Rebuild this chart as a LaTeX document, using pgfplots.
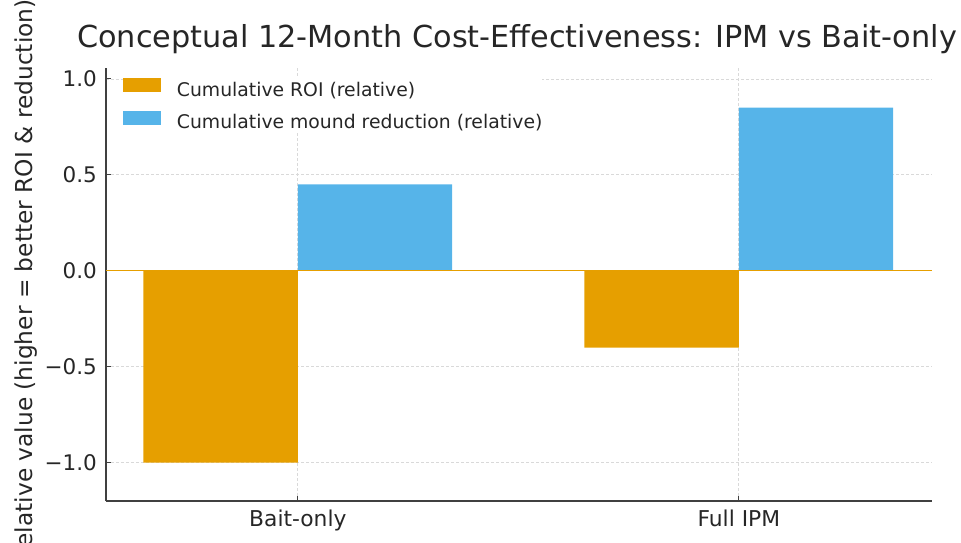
\documentclass[border=0pt]{standalone}
\usepackage{pgfplots}
\pgfplotsset{compat=1.18}
\usepackage{fontspec}
\setmainfont{DejaVu Sans}
\definecolor{cOrange}{HTML}{E69F00}
\definecolor{cBlue}{HTML}{56B4E9}
\definecolor{txt}{HTML}{262626}
\pgfplotsset{mylegend/.style={legend image code/.code={\fill[##1, draw=none] (0bp,-0.5bp) rectangle (38bp,13.5bp);}}}
\begin{document}
\begin{tikzpicture}
\begin{axis}[
  name=ax, at={(0,0)}, anchor=south west,
  scale only axis, width=826bp, height=433bp,
  xmin=-0.435, xmax=1.438, ymin=-1.2, ymax=1.057,
  axis x line*=bottom, axis y line*=left,
  axis line style={-, draw=black!75, line width=1.3bp},
  xtick={0,1}, xticklabels={Bait-only, Full IPM},
  ytick={-1,-0.5,0,0.5,1},
  yticklabels={−1.0,−0.5,0.0,0.5,1.0},
  tick align=inside, major tick length=5bp,
  tick style={draw=black!75, line width=1bp},
  xticklabel style={font=\fontsize{21.8bp}{26bp}\selectfont, text=txt, anchor=base, inner sep=0pt, yshift=-25bp},
  yticklabel style={font=\fontsize{21.5bp}{26bp}\selectfont, text=txt, anchor=east, inner sep=0pt, xshift=-9bp},
  grid=major, major grid style={dash pattern=on 3bp off 2bp, draw=gray!30, line width=0.8bp},
  title={Conceptual 12-Month Cost-Effectiveness: IPM vs Bait-only},
  title style={font=\fontsize{30.3bp}{34bp}\selectfont, text=txt, at={(axis description cs:0.5,1)}, anchor=base, inner sep=0pt, yshift=15bp, xshift=-2bp},
  legend style={at={(axis description cs:0,1)}, anchor=north west, xshift=16.7bp, yshift=-9.7bp, draw=none, fill=white, inner sep=0pt, font=\fontsize{18.8bp}{22bp}\selectfont, text=txt, row sep=10bp, nodes={inner sep=0pt, text height=14bp, text depth=4.5bp}, /tikz/every odd column/.append style={column sep=16bp}},
  legend cell align=left,
]
\addplot[ybar, bar width=0.35, bar shift=-0.175, fill=cOrange, draw=none, mylegend] coordinates {(0,-1.0) (1,-0.40)};
\addlegendentry{Cumulative ROI (relative)}
\addplot[ybar, bar width=0.35, bar shift=0.175, fill=cBlue, draw=none, mylegend] coordinates {(0,0.45) (1,0.85)};
\addlegendentry{Cumulative mound reduction (relative)}
\addplot[forget plot, cOrange, line width=1.1bp] coordinates {(-0.435,0) (1.438,0)};
\end{axis}
\node[rotate=90, anchor=base, font=\fontsize{23.3bp}{27bp}\selectfont, text=txt, inner sep=0pt] at (-73bp,220bp) {Relative value (higher = better ROI \& reduction)};
\pgfresetboundingbox
\useasboundingbox (-106bp,-42bp) rectangle (855bp,501bp);
\end{tikzpicture}
\end{document}
